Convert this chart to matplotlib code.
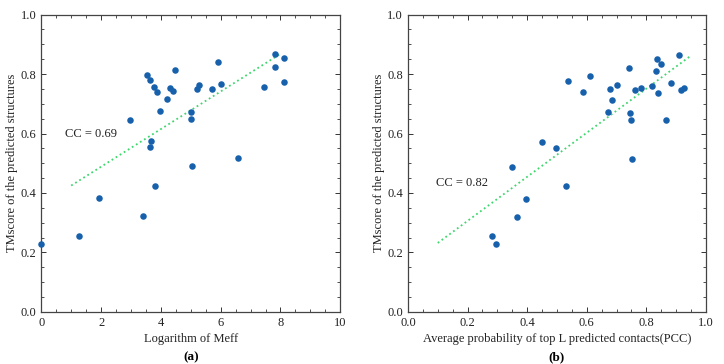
import numpy as np
import matplotlib
matplotlib.use("Agg")
import matplotlib.pyplot as plt
from matplotlib.ticker import MultipleLocator

plt.rcParams['font.family'] = ['Liberation Serif', 'DejaVu Serif']

# panel (a): log Meff vs TMscore
meff_x = [0.0, 1.25, 1.94, 2.98, 3.40, 3.54, 3.62, 3.62, 3.67, 3.76, 3.79,
          3.86, 3.97, 4.19, 4.29, 4.41, 4.46, 5.01, 5.01, 5.03, 5.22, 5.27,
          5.70, 5.91, 6.01, 6.57, 7.45, 7.82, 7.82, 8.13, 8.13]
meff_y = [0.229, 0.257, 0.383, 0.647, 0.321, 0.798, 0.780, 0.553, 0.575,
          0.756, 0.425, 0.740, 0.676, 0.716, 0.754, 0.744, 0.814, 0.673,
          0.648, 0.490, 0.751, 0.762, 0.749, 0.839, 0.765, 0.517, 0.756,
          0.867, 0.823, 0.855, 0.774]
meff_fit_x = [1.0, 8.0]
meff_fit_y = [0.425, 0.868]

# panel (b): PCC vs TMscore
pcc_x = [0.283, 0.295, 0.350, 0.366, 0.397, 0.451, 0.496, 0.529, 0.538,
         0.586, 0.610, 0.673, 0.678, 0.685, 0.700, 0.741, 0.744, 0.747,
         0.752, 0.761, 0.783, 0.818, 0.831, 0.837, 0.840, 0.848, 0.867,
         0.883, 0.910, 0.918, 0.926]
pcc_y = [0.256, 0.228, 0.487, 0.320, 0.381, 0.573, 0.550, 0.423, 0.778,
         0.741, 0.795, 0.672, 0.751, 0.714, 0.762, 0.819, 0.670, 0.645,
         0.515, 0.748, 0.753, 0.760, 0.810, 0.852, 0.736, 0.835, 0.645,
         0.770, 0.863, 0.745, 0.752]
pcc_fit_x = [0.10, 0.95]
pcc_fit_y = [0.232, 0.862]

dot_color = '#1660AC'
line_color = '#3ED66E'
fs = 9


def style_axes(ax, xmajor, xminor):
    ax.set_ylim(0, 1.0)
    ax.xaxis.set_major_locator(MultipleLocator(xmajor))
    ax.xaxis.set_minor_locator(MultipleLocator(xminor))
    ax.yaxis.set_major_locator(MultipleLocator(0.2))
    ax.yaxis.set_minor_locator(MultipleLocator(0.05))
    ax.tick_params(which='both', direction='in', top=True, right=True,
                   labelsize=fs, colors='#333333', labelcolor='#222222')
    ax.tick_params(which='major', length=3.5, width=0.7)
    ax.tick_params(which='minor', length=2, width=0.6)
    for sp in ax.spines.values():
        sp.set_color('#444444')
        sp.set_linewidth(0.9)
    ax.set_ylabel('TMscore of the predicted structures', fontsize=fs,
                  color='#222222', labelpad=2)


fig = plt.figure(figsize=(7.24, 3.64), dpi=100)
ax1 = fig.add_axes([0.057, 0.143, 0.413, 0.817])
ax2 = fig.add_axes([0.5635, 0.143, 0.4115, 0.817])

ax1.scatter(meff_x, meff_y, s=22, color=dot_color, zorder=3, clip_on=False,
            linewidths=0)
ax1.plot(meff_fit_x, meff_fit_y, ':', color=line_color, lw=1.3)
ax1.set_xlim(0, 10)
style_axes(ax1, 2, 0.5)
ax1.set_xlabel('Logarithm of Meff', fontsize=fs, color='#222222', labelpad=3)
ax1.text(0.8, 0.6, 'CC = 0.69', fontsize=fs, va='center', color='#222222')
ax1.text(0.5, -0.152, '(a)', transform=ax1.transAxes, ha='center',
         va='center', fontsize=9.5, fontweight='bold')

ax2.scatter(pcc_x, pcc_y, s=22, color=dot_color, zorder=3, linewidths=0)
ax2.plot(pcc_fit_x, pcc_fit_y, ':', color=line_color, lw=1.3)
ax2.set_xlim(0, 1.0)
style_axes(ax2, 0.2, 0.05)
ax2.set_xlabel('Average probability of top L predicted contacts(PCC)',
               fontsize=fs, color='#222222', labelpad=3)
ax2.text(0.095, 0.435, 'CC = 0.82', fontsize=fs, va='center', color='#222222')
ax2.text(0.5, -0.152, '(b)', transform=ax2.transAxes, ha='center',
         va='center', fontsize=9.5, fontweight='bold')

fig.savefig('out.png', dpi=100)
